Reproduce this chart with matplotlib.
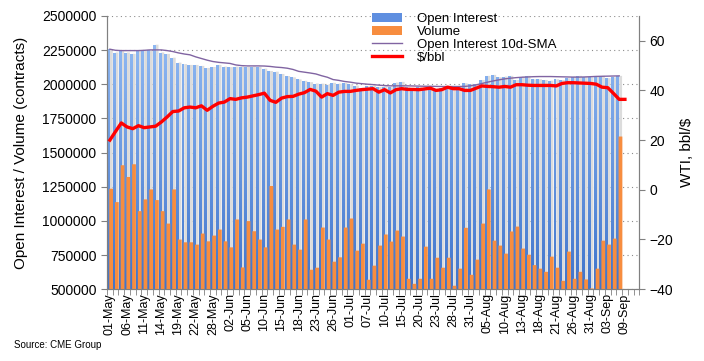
import numpy as np
import matplotlib
matplotlib.use("Agg")
import matplotlib.pyplot as plt
from matplotlib.colors import LinearSegmentedColormap
from matplotlib.path import Path
from matplotlib.patches import Patch
from matplotlib.lines import Line2D

plt.rcParams['font.family'] = ['Liberation Sans', 'DejaVu Sans']

# tick labels (every 3rd trading day, 01-May .. 09-Sep)
tick_labels = ['01-May', '06-May', '11-May', '14-May', '19-May', '22-May', '28-May',
               '02-Jun', '05-Jun', '10-Jun', '15-Jun', '18-Jun', '23-Jun', '26-Jun',
               '01-Jul', '07-Jul', '10-Jul', '15-Jul', '20-Jul', '23-Jul', '28-Jul',
               '31-Jul', '05-Aug', '10-Aug', '13-Aug', '18-Aug', '21-Aug', '26-Aug',
               '31-Aug', '03-Sep', '09-Sep']
n_days = 91      # trading days 01-May .. 09-Sep
n_slots = 93     # category slots on the axis (two empty ones at the end)

# open interest (contracts), one value per day up to 08-Sep
open_interest = [2256, 2232, 2242, 2232, 2222, 2247, 2247, 2247, 2289, 2232,
                 2222, 2194, 2158, 2147, 2141, 2141, 2134, 2119, 2126, 2141,
                 2129, 2125, 2129, 2129, 2129, 2129, 2127, 2114, 2097, 2092,
                 2075, 2060, 2050, 2035, 2025, 2015, 2005, 2004, 1997, 2010,
                 2004, 2008, 2000, 1990, 1975, 1985, 1990, 1980, 1983, 1978,
                 2012, 2017, 1978, 1972, 1978, 1960, 1970, 1966, 1972, 1983,
                 1983, 1988, 2007, 2002, 2002, 2031, 2061, 2068, 2051, 2056,
                 2061, 2031, 2056, 2061, 2036, 2036, 2031, 2026, 2036, 2031,
                 2044, 2056, 2061, 2056, 2051, 2056, 2061, 2044, 2051, 2061]
open_interest = [v * 1000 for v in open_interest]

# volume (contracts)
volume = [1235, 1137, 1407, 1321, 1414, 1071, 1157, 1230, 1152, 1071,
          980, 1230, 863, 843, 843, 826, 907, 850, 892, 936,
          850, 806, 1010, 659, 998, 924, 863, 806, 1255, 936,
          956, 1010, 826, 789, 1010, 642, 657, 951, 863, 701,
          733, 951, 1017, 782, 833, 569, 672, 819, 900, 848,
          929, 885, 576, 539, 576, 811, 576, 730, 657, 730,
          525, 650, 949, 605, 716, 980, 1230, 855, 819, 760,
          922, 958, 797, 752, 676, 650, 627, 738, 657, 561,
          775, 576, 627, 571, 505, 650, 855, 826, 870, 1617]
volume = [v * 1000 for v in volume]

# open interest 10d-SMA
oi_sma = [2256, 2248, 2246, 2246, 2246, 2246, 2248, 2251, 2251, 2251,
          2246, 2239, 2229, 2221, 2215, 2200, 2188, 2176, 2166, 2160,
          2156, 2152, 2141, 2136, 2134, 2134, 2134, 2133, 2130, 2125,
          2122, 2117, 2108, 2094, 2088, 2082, 2075, 2062, 2051, 2034,
          2028, 2020, 2015, 2008, 2004, 2000, 1997, 1993, 1990, 1988,
          1988, 1988, 1988, 1987, 1986, 1985, 1985, 1984, 1983, 1983,
          1983, 1983, 1984, 1988, 1995, 2005, 2015, 2024, 2032, 2039,
          2044, 2048, 2051, 2053, 2055, 2056, 2056, 2056, 2055, 2054,
          2053, 2052, 2052, 2053, 2055, 2057, 2058, 2059, 2060, 2061]
oi_sma = [v * 1000 for v in oi_sma]

# WTI $/bbl, 01-May .. 09-Sep
wti = [20.0, 23.5, 26.9, 25.3, 24.6, 25.8, 25.0, 25.3, 25.6, 27.3,
       29.3, 31.5, 31.7, 33.0, 33.3, 33.0, 33.8, 32.0, 33.6, 34.9,
       35.3, 36.7, 36.4, 37.0, 37.3, 37.8, 38.3, 38.9, 36.0, 35.2,
       36.9, 37.5, 37.6, 38.5, 39.1, 40.4, 39.7, 37.3, 38.7, 38.0,
       39.3, 39.6, 39.6, 40.0, 40.3, 40.5, 40.7, 39.3, 40.3, 39.0,
       40.3, 40.7, 40.4, 40.4, 40.3, 40.6, 40.9, 40.0, 40.3, 41.3,
       40.7, 40.7, 40.0, 40.0, 40.9, 41.8, 41.6, 41.5, 41.3, 41.6,
       41.3, 42.3, 42.3, 42.1, 42.0, 42.0, 42.0, 42.0, 41.8, 42.8,
       43.1, 43.1, 43.0, 42.9, 42.8, 42.5, 41.3, 41.1, 38.8, 36.4,
       36.4]

x_bars = np.arange(len(open_interest))
x_wti = np.arange(len(wti))

fig = plt.figure(figsize=(7.04, 3.61), dpi=100)
ax = fig.add_axes([0.152, 0.199, 0.756, 0.757])

# dotted grid
ax.set_axisbelow(True)
ax.yaxis.grid(True, linestyle=(0, (1, 3)), color='#8c8c8c', linewidth=0.8)

# open interest: light grey right half + blue gradient left half
ax.bar(x_bars + 0.25, open_interest, width=0.5, color='#dcdcdc', zorder=2, snap=False)
oi_bars = ax.bar(x_bars - 0.22, open_interest, width=0.52, color='none', zorder=2)
clip = Path.make_compound_path(*[b.get_patch_transform().transform_path(b.get_path())
                                 for b in oi_bars])
blue_cmap = LinearSegmentedColormap.from_list('oi', ['#3f74cc', '#98c0f7'])
grad = np.linspace(0, 1, 256).reshape(-1, 1)
im = ax.imshow(grad, cmap=blue_cmap, origin='lower', aspect='auto',
               extent=[-0.5, n_slots - 0.5, 500000, 2500000], zorder=2.1)
im.set_clip_path(clip, ax.transData)

# SMA line
ax.plot(x_bars, oi_sma, color='#8064a2', linewidth=1, zorder=3)

# volume bars
ax.bar(x_bars + 0.22, volume, width=0.66, color='#f78d3f', zorder=4, snap=False)

ax.set_xlim(-0.5, n_slots - 0.5)
ax.set_ylim(500000, 2500000)
ax.ticklabel_format(style='plain', axis='y', useOffset=False)
ax.set_yticks(np.arange(500000, 2500001, 250000))
ax.set_ylabel('Open Interest / Volume (contracts)', fontsize=11, labelpad=10)

ax.set_xticks(np.arange(0, n_days, 3))
ax.set_xticklabels(tick_labels, rotation=90, fontsize=9)
ax.set_xticks(np.arange(-0.5, n_slots, 1), minor=True)
ax.tick_params(axis='x', which='major', length=0, pad=3)
ax.tick_params(axis='x', which='minor', length=4, color='#808080')
ax.tick_params(axis='y', labelsize=10, length=4, color='#808080')

ax.spines['top'].set_visible(False)
for s in ['left', 'bottom', 'right']:
    ax.spines[s].set_color('#808080')

# WTI price on secondary axis
ax2 = ax.twinx()
ax2.plot(x_wti, wti, color='#ff0000', linewidth=2.4, solid_joinstyle='round', zorder=5)
ax2.set_ylim(-40, 70)
ax2.set_yticks(np.arange(-40, 61, 20))
ax2.set_ylabel('WTI, bbl/$', fontsize=11, labelpad=5)
ax2.tick_params(axis='y', labelsize=10, length=4, color='#808080')
ax2.spines['top'].set_visible(False)
for s in ['left', 'bottom', 'right']:
    ax2.spines[s].set_color('#808080')

handles = [Patch(facecolor='#5f8fe0', edgecolor='none'),
           Patch(facecolor='#f78d3f', edgecolor='none'),
           Line2D([0], [0], color='#8064a2', linewidth=1),
           Line2D([0], [0], color='#ff0000', linewidth=2.4)]
labels = ['Open Interest', 'Volume', 'Open Interest 10d-SMA', '$/bbl']
ax2.legend(handles, labels, loc='upper left', bbox_to_anchor=(0.515, 0.99),
           bbox_transform=fig.transFigure, frameon=False, fontsize=9.5,
           handlelength=2.3, handleheight=0.7, labelspacing=0.05,
           handletextpad=1.1, borderpad=0.2)

fig.text(0.02, 0.035, 'Source: CME Group', fontsize=7)

fig.savefig('out.png', dpi=100)
